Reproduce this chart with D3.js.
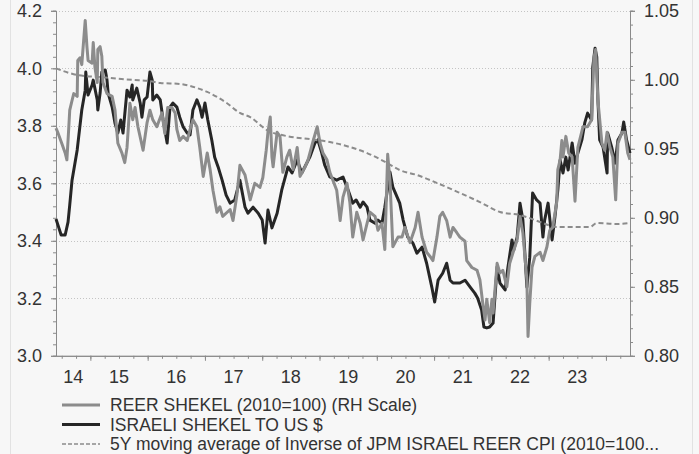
<!DOCTYPE html>
<html lang="en">

<head>
    <meta charset="UTF-8">
    <title>Shekel chart</title>
    <script src="https://cdn.jsdelivr.net/npm/d3@7"></script>
</head>

<body>
    <script>
        // ---- data (decimal years) ----
        const reerDates = [2014.40, 2014.43, 2014.50, 2014.56, 2014.59, 2014.61, 2014.64, 2014.68, 2014.71, 2014.77, 2014.78, 2014.82, 2014.85, 2014.91, 2014.94, 2014.96,
            2015.03, 2015.05, 2015.08, 2015.12, 2015.13, 2015.17, 2015.20, 2015.22, 2015.29, 2015.38, 2015.43, 2015.48, 2015.55, 2015.60, 2015.64, 2015.69, 2015.74, 2015.78, 2015.83, 2015.92, 2015.99,
            2016.04, 2016.09, 2016.16, 2016.25, 2016.30, 2016.35, 2016.42, 2016.48, 2016.51, 2016.56, 2016.62, 2016.69, 2016.74, 2016.79, 2016.86, 2016.91, 2016.97,
            2017.04, 2017.09, 2017.14, 2017.21, 2017.26, 2017.31, 2017.44, 2017.49, 2017.56, 2017.61, 2017.70, 2017.79, 2017.87, 2017.96,
            2018.01, 2018.07, 2018.10, 2018.14, 2018.17, 2018.19, 2018.26, 2018.31, 2018.36, 2018.43, 2018.48, 2018.54, 2018.61, 2018.66, 2018.75, 2018.80, 2018.89, 2018.96,
            2019.01, 2019.06, 2019.13, 2019.18, 2019.30, 2019.36, 2019.41, 2019.48, 2019.53, 2019.58, 2019.65, 2019.71, 2019.76, 2019.83, 2019.88, 2019.97,
            2020.02, 2020.09, 2020.14, 2020.19, 2020.23, 2020.28, 2020.37, 2020.44, 2020.49, 2020.58, 2020.67, 2020.72, 2020.79, 2020.87, 2020.93, 2020.98,
            2021.05, 2021.10, 2021.15, 2021.22, 2021.28, 2021.33, 2021.40, 2021.45, 2021.54, 2021.57, 2021.66, 2021.75, 2021.80, 2021.85, 2021.89, 2021.92, 2021.97,
            2022.01, 2022.03, 2022.10, 2022.15, 2022.20, 2022.27, 2022.32, 2022.38, 2022.45, 2022.50, 2022.55, 2022.62, 2022.64, 2022.67, 2022.71, 2022.76, 2022.85, 2022.90, 2022.97,
            2023.02, 2023.07, 2023.14, 2023.16, 2023.20, 2023.23, 2023.25, 2023.30, 2023.35, 2023.41, 2023.46, 2023.51, 2023.60, 2023.68, 2023.75, 2023.79, 2023.82, 2023.86, 2023.93, 2023.98,
            2024.02, 2024.07, 2024.12, 2024.17, 2024.21, 2024.28, 2024.33, 2024.38, 2024.42];
        const reerValues = [0.965, 0.962, 0.954, 0.947, 0.942, 0.956, 0.978, 0.985, 0.990, 0.988, 1.014, 1.016, 1.011, 1.043, 1.024, 1.014,
            1.012, 1.027, 1.009, 0.998, 1.022, 1.024, 1.017, 0.998, 0.990, 0.988, 0.978, 0.954, 0.947, 0.940, 0.951, 0.983, 0.971, 0.980, 0.966, 0.949, 0.969,
            0.978, 0.971, 0.966, 0.976, 0.961, 0.980, 0.980, 0.976, 0.964, 0.956, 0.959, 0.956, 0.964, 0.971, 0.966, 0.951, 0.930,
            0.947, 0.935, 0.920, 0.904, 0.908, 0.901, 0.906, 0.898, 0.917, 0.938, 0.931, 0.913, 0.925, 0.922,
            0.929, 0.949, 0.962, 0.973, 0.944, 0.937, 0.962, 0.959, 0.933, 0.944, 0.949, 0.935, 0.951, 0.930, 0.937, 0.942, 0.956, 0.966,
            0.954, 0.947, 0.942, 0.933, 0.920, 0.898, 0.915, 0.925, 0.911, 0.886, 0.904, 0.896, 0.884, 0.896, 0.904, 0.901,
            0.891, 0.896, 0.877, 0.946, 0.927, 0.879, 0.886, 0.886, 0.893, 0.882, 0.893, 0.904, 0.886, 0.875, 0.872, 0.869,
            0.886, 0.901, 0.904, 0.898, 0.886, 0.893, 0.889, 0.886, 0.883, 0.869, 0.864, 0.862, 0.855, 0.838, 0.826, 0.841, 0.824,
            0.841, 0.831, 0.867, 0.860, 0.862, 0.850, 0.867, 0.875, 0.884, 0.901, 0.889, 0.855, 0.814, 0.838, 0.864, 0.872, 0.875, 0.869, 0.879,
            0.891, 0.893, 0.911, 0.935, 0.942, 0.956, 0.944, 0.959, 0.947, 0.944, 0.912, 0.951, 0.966, 0.966, 0.971, 1.016, 1.022, 0.985, 0.954, 0.949,
            0.962, 0.951, 0.944, 0.913, 0.954, 0.962, 0.962, 0.947, 0.942];

        const usdIlsDates = [2014.40, 2014.45, 2014.49, 2014.56, 2014.61, 2014.64, 2014.68, 2014.77, 2014.85, 2014.91, 2014.92, 2014.96,
            2015.03, 2015.05, 2015.12, 2015.13, 2015.17, 2015.20, 2015.26, 2015.29, 2015.31, 2015.38, 2015.43, 2015.48, 2015.53, 2015.57, 2015.64, 2015.69, 2015.73, 2015.74, 2015.81, 2015.87, 2015.90, 2015.94, 2015.99,
            2016.04, 2016.08, 2016.09, 2016.16, 2016.22, 2016.27, 2016.34, 2016.39, 2016.44, 2016.51, 2016.56, 2016.62, 2016.69, 2016.74, 2016.79, 2016.86, 2016.91, 2016.95,
            2017.00, 2017.05, 2017.12, 2017.17, 2017.23, 2017.30, 2017.37, 2017.44, 2017.52, 2017.61, 2017.70, 2017.75, 2017.84, 2017.93,
            2018.00, 2018.05, 2018.10, 2018.17, 2018.26, 2018.34, 2018.45, 2018.52, 2018.61, 2018.69, 2018.83, 2018.92, 2018.97,
            2019.04, 2019.09, 2019.18, 2019.30, 2019.41, 2019.50, 2019.58, 2019.64, 2019.71, 2019.76, 2019.83, 2019.88, 2019.97,
            2020.02, 2020.09, 2020.14, 2020.23, 2020.28, 2020.40, 2020.46, 2020.54, 2020.63, 2020.70, 2020.79, 2020.87, 2020.96,
            2021.01, 2021.07, 2021.15, 2021.22, 2021.28, 2021.33, 2021.45, 2021.54, 2021.63, 2021.71, 2021.76, 2021.83, 2021.87, 2021.92, 2021.97,
            2022.03, 2022.10, 2022.15, 2022.24, 2022.29, 2022.36, 2022.39, 2022.45, 2022.50, 2022.55, 2022.62, 2022.67, 2022.72, 2022.79, 2022.85, 2022.90, 2022.93, 2022.99,
            2023.06, 2023.11, 2023.16, 2023.20, 2023.25, 2023.30, 2023.34, 2023.41, 2023.46, 2023.51, 2023.58, 2023.63, 2023.68, 2023.75, 2023.77, 2023.81, 2023.84, 2023.86, 2023.89, 2023.95,
            2024.02, 2024.03, 2024.10, 2024.16, 2024.21, 2024.28, 2024.31, 2024.36, 2024.42];
        const usdIlsValues = [3.476, 3.445, 3.420, 3.420, 3.465, 3.525, 3.611, 3.716, 3.855, 3.924, 3.987, 3.907,
            3.942, 3.959, 3.890, 3.855, 3.914, 3.987, 3.994, 3.959, 3.914, 3.865, 3.809, 3.775, 3.820, 3.775, 3.924, 3.900, 3.942, 3.890, 3.931, 3.879, 3.830, 3.890, 3.900,
            3.987, 3.959, 3.890, 3.907, 3.890, 3.820, 3.740, 3.865, 3.879, 3.865, 3.830, 3.796, 3.775, 3.768, 3.855, 3.890, 3.865, 3.830,
            3.879, 3.820, 3.750, 3.691, 3.657, 3.611, 3.559, 3.531, 3.542, 3.611, 3.517, 3.496, 3.517, 3.496,
            3.472, 3.392, 3.507, 3.445, 3.496, 3.576, 3.657, 3.636, 3.681, 3.636, 3.691, 3.740, 3.751,
            3.705, 3.664, 3.622, 3.611, 3.622, 3.576, 3.531, 3.542, 3.517, 3.535, 3.517, 3.472, 3.461,
            3.472, 3.461, 3.517, 3.639, 3.587, 3.531, 3.472, 3.413, 3.392, 3.357, 3.378, 3.322, 3.239,
            3.187, 3.263, 3.287, 3.322, 3.263, 3.253, 3.253, 3.263, 3.239, 3.218, 3.201, 3.159, 3.100, 3.097, 3.100,
            3.114, 3.309, 3.253, 3.229, 3.309, 3.403, 3.368, 3.413, 3.531, 3.472, 3.239, 3.343, 3.566, 3.542, 3.531, 3.413, 3.472, 3.531,
            3.403, 3.483, 3.576, 3.681, 3.636, 3.691, 3.646, 3.740, 3.670, 3.705, 3.751, 3.810, 3.844, 3.820, 4.004, 4.070, 4.039, 3.890, 3.751, 3.726,
            3.636, 3.775, 3.726, 3.670, 3.751, 3.775, 3.813, 3.751, 3.705];

        const maDates = [2014.40, 2014.77, 2015.17, 2015.74, 2016.04, 2016.22, 2016.56, 2016.74, 2017.04, 2017.38, 2017.61, 2017.79,
            2018.08, 2018.43, 2018.83, 2019.18, 2019.53, 2019.83, 2020.18, 2020.40, 2020.70, 2020.93, 2021.45, 2021.80,
            2022.15, 2022.50, 2022.67, 2022.90, 2023.14, 2023.72, 2023.84, 2024.19, 2024.42];
        const maValues = [1.0083, 1.0035, 1.0020, 0.9999, 0.9991, 0.9977, 0.9970, 0.9955, 0.9912, 0.9832, 0.9760, 0.9730,
            0.9636, 0.9592, 0.9570, 0.9549, 0.9513, 0.9469, 0.9397, 0.9346, 0.9310, 0.9273, 0.9180, 0.9114,
            0.9042, 0.9020, 0.8998, 0.8962, 0.8933, 0.8933, 0.8962, 0.8955, 0.8962];

        const yearLabels = ["14", "15", "16", "17", "18", "19", "20", "21", "22", "23"];
        const leftTicks = [3.0, 3.2, 3.4, 3.6, 3.8, 4.0, 4.2];
        const rightTicks = [0.80, 0.85, 0.90, 0.95, 1.00, 1.05];
        const legendLabels = ["REER SHEKEL (2010=100) (RH Scale)", "ISRAELI SHEKEL TO US $",
            "5Y moving average of Inverse of JPM ISRAEL REER CPI (2010=100..."];

        // ---- layout ----
        const width = 699, height = 454;
        const plotL = 56, plotR = 630, plotT = 10.8, plotB = 355.8;
        const font = "'Liberation Sans', Arial, sans-serif";

        const svg = d3.select("body").append("svg").attr("width", width).attr("height", height)
            .style("font-family", font).style("display", "block");

        svg.append("rect").attr("width", width).attr("height", height).attr("fill", "#f7f7f7");
        svg.append("line").attr("x1", 10.5).attr("x2", 10.5).attr("y1", 0).attr("y2", height).attr("stroke", "#e2e2e2");
        svg.append("line").attr("x1", 692.5).attr("x2", 692.5).attr("y1", 0).attr("y2", height).attr("stroke", "#e2e2e2");

        const x = d3.scaleLinear().domain([2014.40, 2024.42]).range([plotL, plotR]);
        const yL = d3.scaleLinear().domain([3.0, 4.2]).range([plotB, plotT]);
        const yR = d3.scaleLinear().domain([0.80, 1.05]).range([plotB, plotT]);

        // gridlines
        svg.append("g")
            .selectAll("line")
            .data(leftTicks.slice(1))
            .join("line")
            .attr("x1", plotL).attr("x2", plotR)
            .attr("y1", d => Math.round(yL(d)) + 0.5).attr("y2", d => Math.round(yL(d)) + 0.5)
            .attr("stroke", "#c4c4c4")
            .attr("stroke-dasharray", "1,2");

        // axes
        const axisColor = "#8a8a8a";
        const styleAxis = g => {
            g.select(".domain").attr("stroke", axisColor);
            g.selectAll(".tick line").attr("stroke", axisColor);
            g.selectAll(".tick text").attr("fill", "#333").style("font-size", "18px").style("font-family", font);
        };

        const leftMinor = d3.range(3.0, 4.2001, 0.04);
        svg.append("g").attr("transform", `translate(${plotL},0)`)
            .call(d3.axisLeft(yL).tickValues(leftMinor).tickSize(3).tickFormat(""))
            .call(styleAxis);
        svg.append("g").attr("transform", `translate(${plotL},0)`)
            .call(d3.axisLeft(yL).tickValues(leftTicks).tickSize(5).tickPadding(9).tickFormat(d3.format(".1f")))
            .call(styleAxis);

        const rightMinor = d3.range(0.80, 1.0501, 0.01);
        svg.append("g").attr("transform", `translate(${plotR},0)`)
            .call(d3.axisRight(yR).tickValues(rightMinor).tickSize(3).tickFormat(""))
            .call(styleAxis);
        svg.append("g").attr("transform", `translate(${plotR},0)`)
            .call(d3.axisRight(yR).tickValues(rightTicks).tickSize(5).tickPadding(9).tickFormat(d3.format(".2f")))
            .call(styleAxis);

        const quarters = d3.range(2014.5, 2024.42, 0.25);
        svg.append("g").attr("transform", `translate(0,${plotB})`)
            .call(d3.axisBottom(x).tickValues(quarters).tickSize(3).tickFormat("").tickSizeOuter(0))
            .call(styleAxis);
        svg.append("g").attr("transform", `translate(0,${plotB})`)
            .call(d3.axisBottom(x).tickValues(d3.range(2015, 2025)).tickSize(5).tickFormat("").tickSizeOuter(0))
            .call(styleAxis);

        // year labels in the middle of each year
        svg.append("g")
            .selectAll("text")
            .data(yearLabels)
            .join("text")
            .attr("x", (d, i) => i === 0 ? (plotL + x(2015)) / 2 : x(2000 + +d + 0.5))
            .attr("y", 383)
            .attr("text-anchor", "middle")
            .attr("fill", "#333")
            .style("font-size", "18px")
            .text(d => d);

        // lines
        const lineL = d3.line().x(d => x(d[0])).y(d => yL(d[1]));
        const lineR = d3.line().x(d => x(d[0])).y(d => yR(d[1]));

        svg.append("path")
            .datum(d3.zip(usdIlsDates, usdIlsValues))
            .attr("d", lineL)
            .attr("fill", "none")
            .attr("stroke", "#262626")
            .attr("stroke-width", 3)
            .attr("stroke-linejoin", "round");

        svg.append("path")
            .datum(d3.zip(reerDates, reerValues))
            .attr("d", lineR)
            .attr("fill", "none")
            .attr("stroke", "#8c8c8c")
            .attr("stroke-width", 3)
            .attr("stroke-linejoin", "round");

        svg.append("path")
            .datum(d3.zip(maDates, maValues))
            .attr("d", d3.line().x(d => x(d[0])).y(d => yR(d[1])).curve(d3.curveMonotoneX))
            .attr("fill", "none")
            .attr("stroke", "#8c8c8c")
            .attr("stroke-width", 2)
            .attr("stroke-dasharray", "5,3");

        // legend
        const legendStyles = [
            { stroke: "#8c8c8c", width: 3, dash: null },
            { stroke: "#262626", width: 3, dash: null },
            { stroke: "#8c8c8c", width: 1.6, dash: "4,2" }
        ];
        const legend = svg.append("g")
            .selectAll("g")
            .data(legendLabels)
            .join("g")
            .attr("transform", (d, i) => `translate(62,${405 + i * 19.5})`);
        legend.append("line")
            .attr("x1", 0).attr("x2", 38)
            .attr("stroke", (d, i) => legendStyles[i].stroke)
            .attr("stroke-width", (d, i) => legendStyles[i].width)
            .attr("stroke-dasharray", (d, i) => legendStyles[i].dash);
        legend.append("text")
            .attr("x", 48)
            .attr("y", 6)
            .attr("fill", "#333")
            .style("font-size", "17.5px")
            .text(d => d);
    </script>
    <style>
        * {
            margin: 0;
            padding: 0;
        }
    </style>
</body>

</html>
